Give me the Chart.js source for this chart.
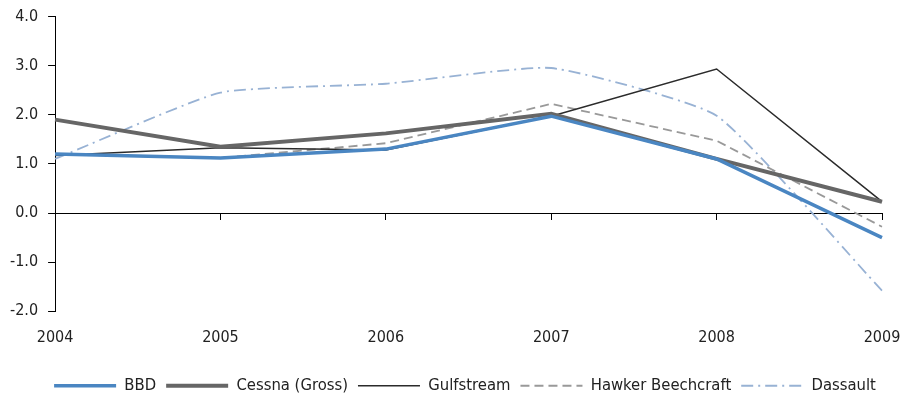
<!DOCTYPE html>
<html>
<head>
<meta charset="utf-8">
<script src="https://cdn.jsdelivr.net/npm/chart.js@4/dist/chart.umd.min.js"></script>
<style>
  html, body { margin: 0; padding: 0; background: #fff; }
  #wrap { width: 912px; height: 400px; }
</style>
</head>
<body>
<div id="wrap"><canvas id="chart" width="912" height="400"></canvas></div>
<script>
const years = ['2004', '2005', '2006', '2007', '2008', '2009']
const bbd = [1.2, 1.12, 1.3, 1.97, 1.1, -0.5]
const cessna = [1.9, 1.35, 1.62, 2.02, 1.1, 0.23]
const gulfstream = [1.17, 1.33, 1.28, 1.97, 2.93, 0.23]
const hawker = [1.2, 1.12, 1.42, 2.22, 1.47, -0.28]
const dassault = [1.1, 2.45, 2.63, 2.95, 1.98, -1.58]
const yTicks = [-2, -1, 0, 1, 2, 3, 4]

const FONT = "'DejaVu Sans Condensed', 'DejaVu Sans', sans-serif"
Chart.defaults.font.family = FONT
Chart.defaults.font.size = 16
Chart.defaults.color = '#222'
Chart.defaults.elements.point.radius = 0

function line(label, data, color, width, dash, tension) {
  return {
    label,
    data,
    borderColor: color,
    backgroundColor: color,
    borderWidth: width,
    borderDash: dash || [],
    tension: tension || 0,
    fill: false,
    pointRadius: 0,
    xAxisID: 'x',
  }
}

const datasets = [
  line('BBD', bbd, '#4a86c2', 3.5),
  line('Cessna (Gross)', cessna, '#666666', 4),
  line('Gulfstream', gulfstream, '#2b2b2b', 1.5),
  line('Hawker Beechcraft', hawker, '#999999', 1.8, [9, 5]),
  line('Dassault', dassault, '#98b2d4', 1.8, [12, 5, 2, 5], 0.15),
]

// the legend sits centred under the plot area, not the whole canvas
const nudgeLegend = {
  id: 'nudgeLegend',
  afterLayout(chart) {
    chart.legend.left += 24
    chart.legend.right += 24
  },
}

new Chart(document.getElementById('chart'), {
  type: 'line',
  data: { labels: years, datasets },
  plugins: [nudgeLegend],
  options: {
    responsive: false,
    animation: false,
    layout: { padding: { left: 0, right: 30, top: 0, bottom: -4 } },
    scales: {
      x: {
        type: 'category',
        position: 'bottom',
        offset: false,
        grid: { display: false },
        border: { display: false },
        ticks: { padding: 9, maxRotation: 0, color: '#222' },
        afterFit: (s) => { s.height += 11 },
      },
      x2: {
        type: 'category',
        position: { y: 0 },
        offset: false,
        grid: { display: true, drawOnChartArea: false, drawTicks: true, tickLength: 6, color: '#000' },
        border: { display: true, color: '#000', width: 1 },
        ticks: { display: false },
      },
      y: {
        min: -2,
        max: 4,
        afterBuildTicks: (s) => { s.ticks = yTicks.map(v => ({ value: v })) },
        grid: { display: true, drawOnChartArea: false, drawTicks: true, tickLength: 7, color: '#000' },
        border: { display: true, color: '#000', width: 1 },
        ticks: { padding: 10, font: { lineHeight: 0.8 }, callback: (v) => Number(v).toFixed(1), color: '#222' },
      },
    },
    plugins: {
      tooltip: { enabled: false },
      legend: {
        display: true,
        position: 'bottom',
        labels: {
          boxWidth: 62,
          boxHeight: 12,
          padding: 10,
          font: { size: 16.5 },
          usePointStyle: true,
          pointStyleWidth: 62,
          generateLabels: (chart) => chart.data.datasets.map((d, i) => ({
            text: d.label,
            datasetIndex: i,
            fillStyle: d.borderColor,
            strokeStyle: d.borderColor,
            lineWidth: d.borderWidth,
            lineDash: d.borderDash,
            fontColor: '#222',
            hidden: false,
            pointStyle: 'line',
          })),
        },
      },
    },
  },
})
</script>
</body>
</html>
